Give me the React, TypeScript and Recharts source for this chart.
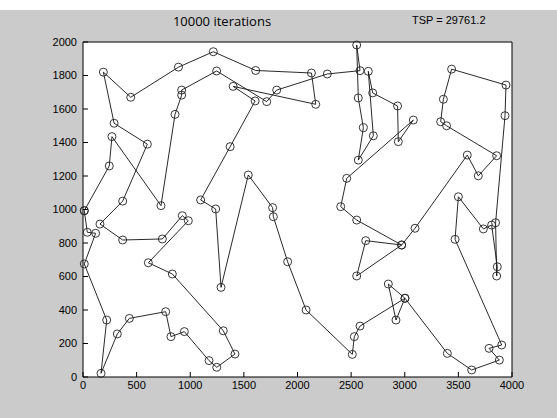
import { LineChart, Line, XAxis, YAxis } from 'recharts';

// tour order (closed: last city = first city)
const tourX = [
  12, 40, 118, 12, 221, 168, 320, 432, 771, 820, 945, 1175, 1247, 1417, 1308, 833, 609, 982, 926, 740,
  370, 158, 370, 600, 290, 190, 445, 890, 1215, 1610, 2130, 2170, 1400, 1605, 1372, 1097, 1237, 1287, 1541, 1768,
  1775, 1908, 2080, 2511, 2530, 2583, 3002, 2918, 2847, 3002, 3397, 3624, 3882, 3786, 3904, 3469, 3500, 3733, 3810, 3863,
  3857, 3847, 3935, 3944, 3437, 3360, 3335, 3390, 3857, 3686, 3583, 3096, 2971, 2552, 2636, 2971, 2552, 2403, 2459, 3080,
  2940, 2933, 2701, 2660, 2707, 2567, 2614, 2567, 2552, 2583, 2278, 1806, 1713, 1246, 920, 920, 858, 727, 270, 245,
  12,
];
const tourY = [
  993, 864, 858, 675, 340, 22, 257, 350, 390, 241, 271, 98, 58, 137, 276, 615, 682, 933, 963, 824,
  818, 913, 1050, 1390, 1515, 1820, 1670, 1850, 1942, 1830, 1815, 1628, 1735, 1648, 1375, 1057, 1003, 535, 1206, 1011,
  957, 688, 400, 135, 241, 304, 470, 340, 555, 470, 141, 42, 101, 171, 191, 822, 1076, 884, 907, 658,
  603, 921, 1560, 1743, 1838, 1658, 1524, 1500, 1321, 1201, 1325, 888, 788, 603, 814, 788, 937, 1017, 1186, 1534,
  1405, 1618, 1696, 1825, 1440, 1295, 1488, 1666, 1982, 1829, 1809, 1713, 1644, 1827, 1713, 1683, 1568, 1023, 1435, 1260,
  993,
];

const xTicks = [0, 500, 1000, 1500, 2000, 2500, 3000, 3500, 4000];
const yTicks = [0, 200, 400, 600, 800, 1000, 1200, 1400, 1600, 1800, 2000];

const data = tourX.map((x, i) => ({ x, y: tourY[i] }));

const tickFont = { fill: '#000', fontSize: 11, fontFamily: 'Liberation Sans, Arial, sans-serif' };

export default function App() {
  return (
    <div style={{ position: 'absolute', left: 0, top: 0, width: 557, height: 418, background: '#fff' }}>
      <div style={{ position: 'absolute', left: 0, top: 10, width: 557, height: 408, background: '#cbcbcb' }} />
      <div
        style={{
          position: 'absolute', left: 0, top: 12, width: 444, textAlign: 'center',
          fontFamily: 'Open Sans, sans-serif', fontSize: 13, color: '#000',
        }}
      >
        10000 iterations
      </div>
      <div
        style={{
          position: 'absolute', left: 412, top: 14,
          fontFamily: 'Liberation Sans, Arial, sans-serif', fontSize: 11, color: '#000',
        }}
      >
        TSP = 29761.2
      </div>
      <div style={{ position: 'absolute', left: 0, top: 0 }}>
        <LineChart width={557} height={418} data={data} margin={{ top: 32, right: 35, bottom: 11, left: 43 }}>
          <rect x={83} y={42} width={429} height={335} fill="#fff" />
          <XAxis
            dataKey="x"
            type="number"
            domain={[0, 4000]}
            ticks={xTicks}
            height={30}
            stroke="#000"
            tickSize={-5}
            tickMargin={9}
            tick={tickFont}
          />
          <XAxis
            xAxisId="top"
            orientation="top"
            dataKey="x"
            type="number"
            domain={[0, 4000]}
            ticks={xTicks}
            height={10}
            stroke="#000"
            tickSize={-5}
            tick={false}
          />
          <YAxis
            type="number"
            domain={[0, 2000]}
            ticks={yTicks}
            width={40}
            stroke="#000"
            tickSize={-5}
            tickMargin={11}
            tick={tickFont}
          />
          <YAxis
            yAxisId="right"
            orientation="right"
            type="number"
            domain={[0, 2000]}
            ticks={yTicks}
            width={10}
            stroke="#000"
            tickSize={-5}
            tick={false}
          />
          <Line
            dataKey="y"
            type="linear"
            stroke="#111"
            strokeWidth={0.9}
            dot={{ r: 4, fill: 'none', stroke: '#222', strokeWidth: 0.9 }}
            isAnimationActive={false}
          />
        </LineChart>
      </div>
    </div>
  );
}
